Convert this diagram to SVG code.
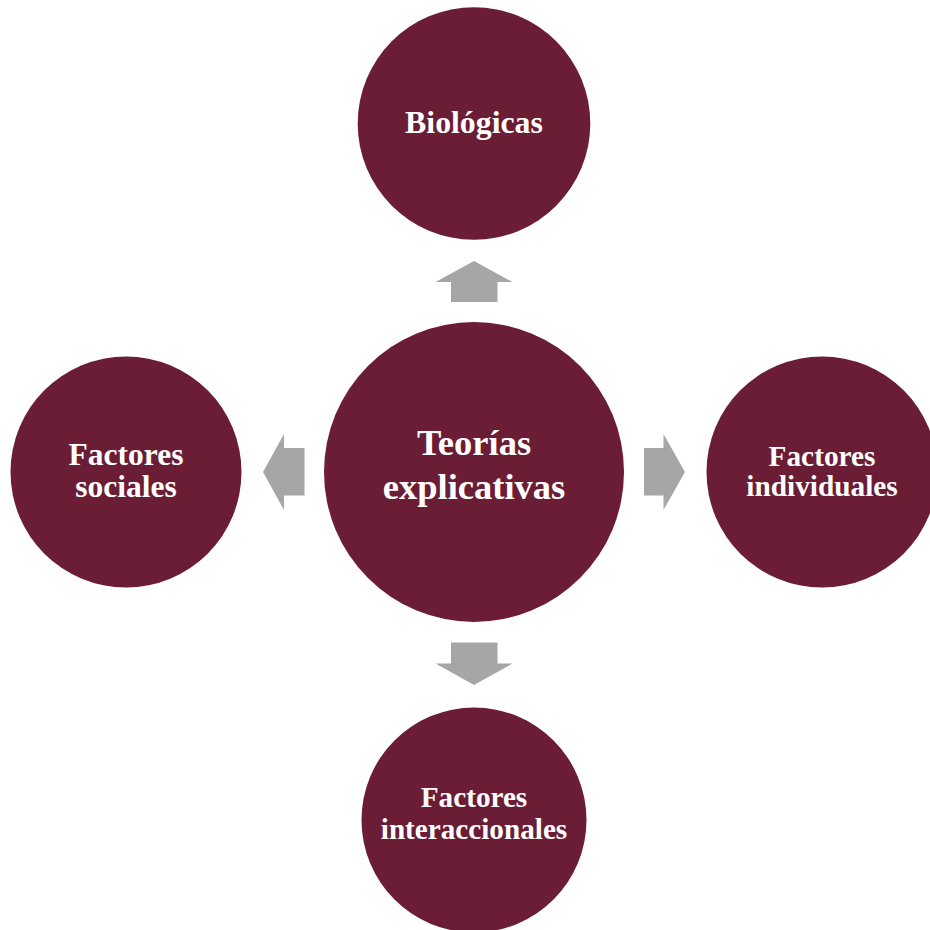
<svg xmlns="http://www.w3.org/2000/svg" width="930" height="930" viewBox="0 0 930 930">
<style>
.node{fill:#6A1D34;}
.lbl{fill:#FFFFFF;font-family:"Liberation Serif","Times New Roman",serif;font-weight:bold;text-anchor:middle;}
.arr{fill:#A6A6A6;}
</style>
<rect width="930" height="930" fill="#FFFFFF"/>
<g id="connectors">
<polygon class="arr" points="474,261 512.5,282 497.5,282 497.5,302 451,302 451,282 435.5,282"/>
<polygon class="arr" points="474,685 512.5,663.5 497.5,663.5 497.5,642.5 451,642.5 451,663.5 435.5,663.5"/>
<polygon class="arr" points="685,472 663.5,434 663.5,448 644,448 644,495.5 663.5,495.5 663.5,510"/>
<polygon class="arr" points="263,472 284,434 284,448 304.5,448 304.5,495.5 284,495.5 284,510"/>
</g>
<g id="node-center">
<circle class="node" cx="474" cy="472" r="150"/>
<text class="lbl" x="474" y="455" font-size="36.5">Teorías</text>
<text class="lbl" x="474" y="499" font-size="36.5">explicativas</text>
</g>
<g id="node-biologicas">
<circle class="node" cx="474" cy="123.5" r="116.3"/>
<text class="lbl" x="474" y="133.3" font-size="31.8">Biológicas</text>
</g>
<g id="node-sociales">
<circle class="node" cx="126" cy="472" r="115.5"/>
<text class="lbl" x="126" y="465" font-size="31.5">Factores</text>
<text class="lbl" x="126" y="496.7" font-size="31.5">sociales</text>
</g>
<g id="node-individuales">
<circle class="node" cx="822" cy="472" r="115.5"/>
<text class="lbl" x="822" y="466" font-size="29.3">Factores</text>
<text class="lbl" x="822" y="496" font-size="29.3">individuales</text>
</g>
<g id="node-interaccionales">
<circle class="node" cx="474" cy="820" r="112.5"/>
<text class="lbl" x="474" y="806.7" font-size="29.2">Factores</text>
<text class="lbl" x="474" y="839" font-size="29.2">interaccionales</text>
</g>
</svg>
